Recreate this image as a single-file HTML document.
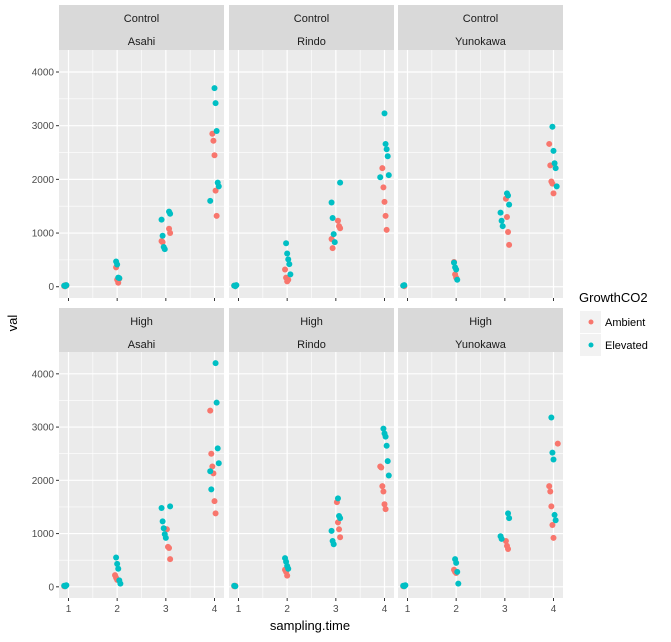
<!DOCTYPE html>
<html><head><meta charset="utf-8"><style>
body{margin:0;background:#fff;}
svg{display:block;font-family:"Liberation Sans",sans-serif;}
</style></head><body>
<svg id="chart" width="671" height="642"></svg>
<script>
const timePoints=[1,2,3,4];
const yTicks=[0,1000,2000,3000,4000];
const treatments=["Control","High"];
const sites=["Asahi","Rindo","Yunokawa"];
// values per panel: [time, value] for ambient / elevated
const ambControlAsahi=[[1,10],[1,30],[1,20],[2,360],[2,130],[2,75],[2,150],[3,1080],[3,1000],[3,850],[3,830],[4,2850],[4,2720],[4,2450],[4,1790],[4,1320]];
const eleControlAsahi=[[1,20],[1,10],[1,30],[2,470],[2,415],[2,170],[2,160],[3,1400],[3,1360],[3,1250],[3,950],[3,740],[3,700],[4,3700],[4,3420],[4,2900],[4,1940],[4,1870],[4,1600]];
const ambControlRindo=[[1,20],[1,10],[2,320],[2,170],[2,100],[2,130],[3,1230],[3,1130],[3,1090],[3,890],[3,720],[4,2210],[4,1850],[4,1580],[4,1320],[4,1060]];
const eleControlRindo=[[1,20],[1,10],[1,30],[2,810],[2,620],[2,510],[2,420],[2,230],[3,1940],[3,1570],[3,1280],[3,980],[3,830],[4,3230],[4,2660],[4,2560],[4,2430],[4,2080],[4,2040]];
const ambControlYuno=[[1,20],[1,10],[2,460],[2,230],[2,170],[3,1640],[3,1300],[3,1020],[3,780],[4,2660],[4,2260],[4,1960],[4,1920],[4,1740]];
const eleControlYuno=[[1,20],[1,30],[2,450],[2,360],[2,320],[2,130],[3,1740],[3,1700],[3,1530],[3,1380],[3,1230],[3,1130],[4,2980],[4,2530],[4,2300],[4,2210],[4,1870]];
const ambHighAsahi=[[1,10],[1,20],[2,220],[2,170],[2,130],[3,1080],[3,750],[3,730],[3,520],[4,3310],[4,2500],[4,2260],[4,2130],[4,1610],[4,1380]];
const eleHighAsahi=[[1,20],[1,10],[1,30],[2,550],[2,430],[2,340],[2,120],[2,60],[3,1510],[3,1480],[3,1230],[3,1100],[3,990],[3,920],[4,4200],[4,3460],[4,2600],[4,2320],[4,2170],[4,1830]];
const ambHighRindo=[[1,10],[1,20],[2,320],[2,280],[2,210],[3,1590],[3,1210],[3,1080],[3,930],[4,2260],[4,2240],[4,1890],[4,1790],[4,1550],[4,1460]];
const eleHighRindo=[[1,20],[1,10],[2,540],[2,470],[2,390],[2,340],[3,1660],[3,1330],[3,1290],[3,1050],[3,860],[3,800],[4,2970],[4,2880],[4,2820],[4,2650],[4,2360],[4,2090]];
const ambHighYuno=[[1,10],[1,20],[2,320],[2,280],[2,260],[3,860],[3,770],[3,710],[4,2690],[4,1890],[4,1790],[4,1510],[4,1160],[4,920]];
const eleHighYuno=[[1,20],[1,10],[1,30],[2,520],[2,450],[2,280],[2,60],[3,1380],[3,1290],[3,950],[3,900],[4,3180],[4,2520],[4,2390],[4,1350],[4,1250]];
const panelData=[[ambControlAsahi,eleControlAsahi],[ambControlRindo,eleControlRindo],[ambControlYuno,eleControlYuno],[ambHighAsahi,eleHighAsahi],[ambHighRindo,eleHighRindo],[ambHighYuno,eleHighYuno]];

const NS="http://www.w3.org/2000/svg";
const svg=document.getElementById('chart');
function mk(tag,attrs,parent){const e=document.createElementNS(NS,tag);for(const k in attrs)e.setAttribute(k,attrs[k]);(parent||svg).appendChild(e);return e;}
const colX=[59,229,398], pw=165;
const rowTop=[[5,50,298],[308,352,598]];
const AMB="#F8766D", ELE="#00BFC4";
for(let r=0;r<2;r++){
 const [st,pt,pb]=rowTop[r];
 // y-scale: value domain with ggplot expansion
 const yMin=-210,yMax=4410;
 const ys=v=>pb-(v-yMin)/(yMax-yMin)*(pb-pt);
 for(let c=0;c<3;c++){
  const x0=colX[c];
  const xs=t=>x0+9.5+(t-1)/3*(pw-19);
  const g=mk('g',{});
  
  
  const strip=mk('rect',{x:x0,y:st,width:pw,height:pt-st,fill:'#d9d9d9'},g);
  
  const t1=mk('text',{x:x0+pw/2,y:st+17,'text-anchor':'middle','font-size':11,fill:'#1a1a1a'},g);t1.textContent=treatments[r];
  
  const t2=mk('text',{x:x0+pw/2,y:st+40,'text-anchor':'middle','font-size':11,fill:'#1a1a1a'},g);t2.textContent=sites[c];
  
  mk('rect',{x:x0,y:pt,width:pw,height:pb-pt,fill:'#ebebeb'},g);
  for(let v=500;v<4400;v+=1000) mk('line',{x1:x0,x2:x0+pw,y1:ys(v),y2:ys(v),stroke:'#fff','stroke-width':0.6},g);
  for(let t=1.5;t<4;t+=1) mk('line',{x1:xs(t),x2:xs(t),y1:pt,y2:pb,stroke:'#fff','stroke-width':0.6},g);
  yTicks.forEach(v=>mk('line',{x1:x0,x2:x0+pw,y1:ys(v),y2:ys(v),stroke:'#fff','stroke-width':1.2},g));
  timePoints.forEach(t=>mk('line',{x1:xs(t),x2:xs(t),y1:pt,y2:pb,stroke:'#fff','stroke-width':1.2},g));
  if(c===0){yTicks.forEach(v=>{
    mk('line',{x1:x0-3,x2:x0,y1:ys(v),y2:ys(v),stroke:'#333'},svg);
    const l=mk('text',{x:x0-5,y:ys(v)+3.5,'text-anchor':'end','font-size':10,fill:'#4d4d4d'});l.textContent=v;
    
  });}
  timePoints.forEach(t=>mk('line',{x1:xs(t),x2:xs(t),y1:pb,y2:pb+3,stroke:'#333'},svg));
  if(r===1){timePoints.forEach(t=>{
    const l=mk('text',{x:xs(t),y:pb+14,'text-anchor':'middle','font-size':10,fill:'#4d4d4d'});l.textContent=t;
    
  });}
  const [amb,ele]=panelData[r*3+c];
  [[amb,AMB,'ambient'],[ele,ELE,'elevated']].forEach(([arr,col,nm])=>{
   arr.forEach((d,i)=>{
    const jit=((i*37)%9-4)*0.022;
    const p=mk('circle',{cx:xs(d[0]+jit),cy:ys(d[1]),r:3,fill:col},g);
    
    
   });
  });
 }
}
const yt=mk('text',{x:17,y:323,'text-anchor':'middle','font-size':13,transform:'rotate(-90 17 323)'});yt.textContent='val';

const xt=mk('text',{x:310,y:630,'text-anchor':'middle','font-size':13});xt.textContent='sampling.time';

const lt=mk('text',{x:579,y:302,'font-size':13});lt.textContent='GrowthCO2';

[['Ambient',AMB,311],['Elevated',ELE,334]].forEach(([n,col,y])=>{
 const g=mk('g',{});
 
 mk('rect',{x:580,y:y,width:21,height:22,fill:'#f2f2f2'},g);
 mk('circle',{cx:591,cy:y+11,r:2.5,fill:col},g);
 const t=mk('text',{x:605,y:y+15,'font-size':11},g);t.textContent=n;
});
</script>
</body></html>
